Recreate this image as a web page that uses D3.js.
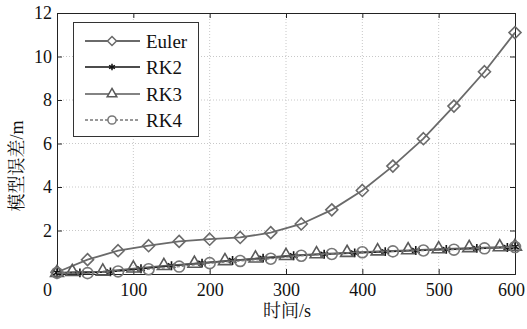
<!DOCTYPE html>
<html>
<head>
<meta charset="utf-8">
<script src="https://cdn.jsdelivr.net/npm/d3@7"></script>
<style>
  body { margin: 0; background: #fff; }
</style>
</head>
<body>
<svg width="527" height="329"></svg>
<script>
// values
var eulerX = [0, 40, 80, 120, 160, 200, 240, 280, 320, 360, 400, 440, 480, 520, 560, 600];
var eulerY = [0.08, 0.66, 1.07, 1.3, 1.5, 1.6, 1.68, 1.9, 2.3, 2.95, 3.84, 4.96, 6.22, 7.72, 9.3, 11.1];

var rk2X = [0, 30, 70, 110, 150, 190, 230, 270, 310, 350, 390, 430, 470, 510, 550, 590, 600];
var rk2Y = [0.06, 0.05, 0.1, 0.24, 0.38, 0.5, 0.62, 0.73, 0.84, 0.91, 0.97, 1.03, 1.08, 1.13, 1.18, 1.22, 1.25];

var rk3X = [0, 20, 60, 100, 140, 180, 220, 260, 300, 340, 380, 420, 460, 500, 540, 580, 600];
var rk3Y = [0.06, 0.1, 0.12, 0.26, 0.38, 0.48, 0.6, 0.72, 0.84, 0.92, 0.98, 1.05, 1.1, 1.15, 1.2, 1.24, 1.26];

var rk4X = [0, 40, 80, 120, 160, 200, 240, 280, 320, 360, 400, 440, 480, 520, 560, 600];
var rk4Y = [0.05, 0.04, 0.12, 0.22, 0.34, 0.5, 0.6, 0.7, 0.84, 0.92, 1.0, 1.04, 1.08, 1.12, 1.18, 1.24];

var seriesNames = ["Euler", "RK2", "RK3", "RK4"];
var xTicks = [0, 100, 200, 300, 400, 500, 600];
var yTicks = [0, 2, 4, 6, 8, 10, 12];
var xTitle = "时间/s";
var yTitle = "模型误差/m";

var fontLatin = "'Liberation Serif'";
var fontCJK = "'Liberation Serif', 'Noto Serif CJK SC'";

// plot box in pixels (window.top is reserved, so use other names)
var pL = 57, pR = 515, pT = 13, pB = 274;

var scX = d3.scaleLinear().domain([0, 600]).range([pL, pR]);
var scY = d3.scaleLinear().domain([0, 12]).range([pB, pT]);

var svg = d3.select("svg");

// dotted grid
svg.append("g").selectAll("line")
  .data(xTicks.slice(1, -1)).enter().append("line")
  .attr("x1", d => scX(d)).attr("x2", d => scX(d))
  .attr("y1", pT).attr("y2", pB)
  .attr("stroke", "#c8c8c8").attr("stroke-dasharray", "1,2");
svg.append("g").selectAll("line")
  .data(yTicks.slice(1, -1)).enter().append("line")
  .attr("y1", d => scY(d)).attr("y2", d => scY(d))
  .attr("x1", pL).attr("x2", pR)
  .attr("stroke", "#c8c8c8").attr("stroke-dasharray", "1,2");

// axes, ticks pointing inward
var xAxis = svg.append("g").attr("transform", "translate(0," + pB + ")")
  .call(d3.axisBottom(scX).tickValues(xTicks).tickSize(-5).tickPadding(9));
// the "0" sits a bit left of its tick, the "600" is pulled in from the edge
xAxis.selectAll("text").filter(d => d === 0).attr("x", -10);
xAxis.selectAll("text").filter(d => d === 600).attr("x", -4);

svg.append("g").attr("transform", "translate(" + pL + ",0)")
  .call(d3.axisLeft(scY).tickValues(yTicks).tickSize(-5).tickPadding(5)
    .tickFormat(d => d === 0 ? "" : d));

svg.append("g").attr("transform", "translate(0," + pT + ")")
  .call(d3.axisTop(scX).tickValues(xTicks).tickSize(-5).tickFormat(""));
svg.append("g").attr("transform", "translate(" + pR + ",0)")
  .call(d3.axisRight(scY).tickValues(yTicks).tickSize(-5).tickFormat(""));

svg.selectAll(".domain").attr("stroke", "#222");
svg.selectAll(".tick line").attr("stroke", "#222");
svg.selectAll(".tick text").attr("font-size", 18).attr("fill", "#111")
  .attr("font-family", fontLatin);

// axis titles
svg.append("text").attr("x", 287).attr("y", 317)
  .attr("text-anchor", "middle").attr("font-size", 18).attr("fill", "#111")
  .attr("font-family", fontCJK)
  .text(xTitle);
svg.append("text")
  .attr("transform", "translate(23,166) rotate(-90)")
  .attr("text-anchor", "middle").attr("font-size", 18).attr("fill", "#111")
  .attr("font-family", fontCJK)
  .text(yTitle);

// marker shapes
function diamond(s) { return "M0," + (-s) + "L" + s + ",0L0," + s + "L" + (-s) + ",0Z"; }
function marker(kind, s) {
  if (kind === "Euler") return diamond(s);
  if (kind === "RK2") return d3.symbol(d3.symbolAsterisk, s * s * 2.2)();
  if (kind === "RK3") return d3.symbol(d3.symbolTriangle, s * s * 2.0)();
  return d3.symbol(d3.symbolCircle, s * s * 3.1)();
}

var styles = {
  Euler: { color: "#6a6a6a", dash: null, width: 1.8, size: 6 },
  RK2:   { color: "#111111", dash: null, width: 1.6, size: 5 },
  RK3:   { color: "#5a5a5a", dash: null, width: 1.4, size: 6 },
  RK4:   { color: "#777777", dash: "3,2", width: 1.3, size: 5.5 }
};

var allX = { Euler: eulerX, RK2: rk2X, RK3: rk3X, RK4: rk4X };
var allY = { Euler: eulerY, RK2: rk2Y, RK3: rk3Y, RK4: rk4Y };

var lineMaker = d3.line().x(d => scX(d[0])).y(d => scY(d[1]));

seriesNames.forEach(function(name) {
  var st = styles[name];
  var pts = allX[name].map((x, i) => [x, allY[name][i]]);
  var g = svg.append("g").attr("id", name);
  g.append("path")
    .attr("fill", "none").attr("stroke", st.color)
    .attr("stroke-width", st.width)
    .attr("stroke-dasharray", st.dash)
    .attr("d", lineMaker(pts));
  g.selectAll(".mk").data(pts).enter().append("path")
    .attr("class", "mk")
    .attr("transform", d => "translate(" + scX(d[0]) + "," + scY(d[1]) + ")")
    .attr("d", marker(name, st.size))
    .attr("fill", "none").attr("stroke", st.color).attr("stroke-width", 1.6);
});

// legend
var lg = svg.append("g");
lg.append("rect").attr("x", 73.5).attr("y", 22.5).attr("width", 125).attr("height", 114)
  .attr("fill", "#fff").attr("stroke", "#333").attr("stroke-width", 1);
var rowY = [41, 67, 94, 120];
seriesNames.forEach(function(name, i) {
  var st = styles[name];
  lg.append("line").attr("x1", 85).attr("x2", 140).attr("y1", rowY[i]).attr("y2", rowY[i])
    .attr("stroke", st.color).attr("stroke-width", st.width)
    .attr("stroke-dasharray", st.dash);
  lg.append("path").attr("transform", "translate(112," + rowY[i] + ")")
    .attr("d", marker(name, st.size * 0.75))
    .attr("fill", "#fff").attr("stroke", st.color).attr("stroke-width", 1.5);
  lg.append("text").attr("x", 146).attr("y", rowY[i]).attr("dy", "0.35em")
    .attr("font-size", 19).attr("fill", "#111").attr("font-family", fontLatin)
    .text(name);
});
</script>
</body>
</html>
